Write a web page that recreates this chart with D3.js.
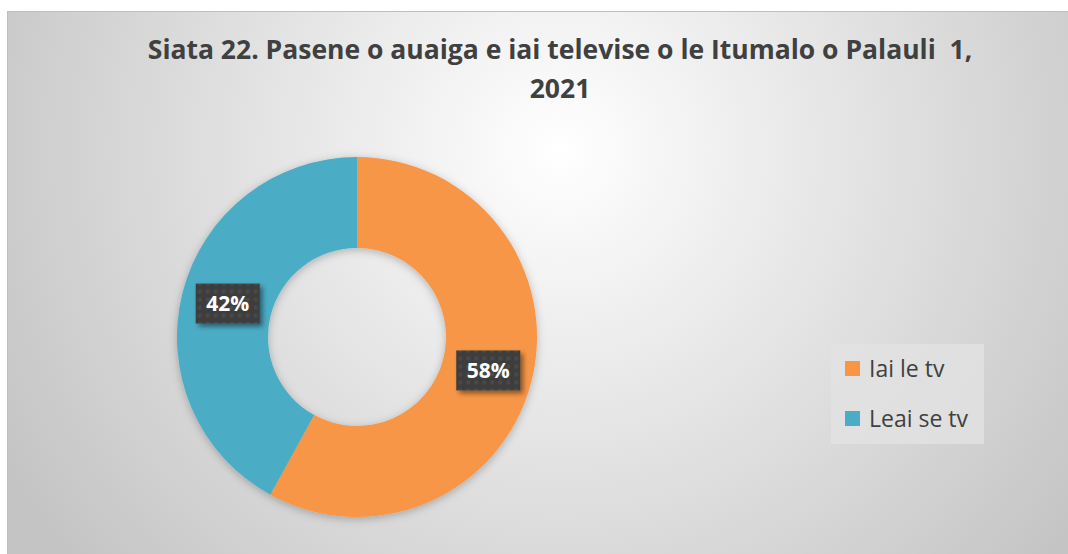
<!DOCTYPE html>
<html>
<head>
<meta charset="utf-8">
<script src="https://cdn.jsdelivr.net/npm/d3@7"></script>
<style>
  body { margin: 0; background: #ffffff; }
  svg { display: block; }
</style>
</head>
<body>
<div id="chart"></div>
<script>
(function () {

    // Data
    const categories = ["Iai le tv", "Leai se tv"];
    const values = [58, 42];
    const colors = ["#F79646", "#4BACC6"];
    const titleLines = ["Siata 22. Pasene o auaiga e iai televise o le Itumalo o Palauli  1,", "2021"];

    const width = 1068;
    const height = 554;

    const svg = d3.select('#chart')
        .append('svg')
        .attr('width', width)
        .attr('height', height);

    const defs = svg.append("defs");

    // Background gradient
    const bg = defs.append("radialGradient")
        .attr("id", "bgGrad")
        .attr("gradientUnits", "userSpaceOnUse")
        .attr("cx", 560).attr("cy", 150).attr("r", 640);
    bg.append("stop").attr("offset", "0%").attr("stop-color", "#ffffff");
    bg.append("stop").attr("offset", "100%").attr("stop-color", "#c4c4c4");

    // Dot pattern for data labels
    const pat = defs.append("pattern")
        .attr("id", "dots")
        .attr("patternUnits", "userSpaceOnUse")
        .attr("width", 8).attr("height", 8);
    pat.append("rect").attr("width", 8).attr("height", 8).attr("fill", "#3d3d3d");
    pat.append("circle").attr("cx", 4).attr("cy", 4).attr("r", 2.2).attr("fill", "#484848");

    const shadow = defs.append("filter").attr("id", "shadow")
        .attr("x", "-20%").attr("y", "-20%").attr("width", "150%").attr("height", "150%");
    shadow.append("feDropShadow")
        .attr("dx", 3).attr("dy", 3).attr("stdDeviation", 2.5)
        .attr("flood-color", "#000").attr("flood-opacity", 0.45);

    const pieShadow = defs.append("filter").attr("id", "pieShadow")
        .attr("x", "-20%").attr("y", "-20%").attr("width", "140%").attr("height", "140%");
    pieShadow.append("feDropShadow")
        .attr("dx", 0).attr("dy", 2).attr("stdDeviation", 4)
        .attr("flood-color", "#000").attr("flood-opacity", 0.25);

    // Chart area
    svg.append("rect")
        .attr("x", 7.5).attr("y", 11.5)
        .attr("width", width).attr("height", height)
        .attr("fill", "url(#bgGrad)")
        .attr("stroke", "#bfbfbf")
        .attr("stroke-width", 1);

    // Title
    const title = svg.append("text")
        .attr("text-anchor", "middle")
        .attr("font-family", "'Open Sans', sans-serif")
        .attr("font-weight", "bold")
        .attr("font-size", 26.5)
        .attr("fill", "#404040")
        .style("white-space", "pre");
    title.selectAll("tspan")
        .data(titleLines)
        .enter().append("tspan")
        .attr("x", 560)
        .attr("y", (d, i) => 59 + i * 39)
        .text(d => d);

    // Donut
    const cx = 357, cy = 337;
    const outerR = 180, innerR = 89;

    const pie = d3.pie().sort(null).value(d => d.value);
    const arc = d3.arc().innerRadius(innerR).outerRadius(outerR);
    const data = pie(categories.map((c, i) => ({ name: c, value: values[i], color: colors[i] })));

    const g = svg.append("g")
        .attr("transform", `translate(${cx}, ${cy})`);

    g.append("g")
        .attr("filter", "url(#pieShadow)")
        .selectAll("path")
        .data(data)
        .enter().append("path")
        .attr("d", arc)
        .attr("fill", d => d.data.color);

    // Data labels
    const total = d3.sum(values);
    const boxW = 64, boxH = 40;

    const labels = g.selectAll(".lbl")
        .data(data)
        .enter().append("g")
        .attr("class", "lbl")
        .attr("transform", d => {
            const [x, y] = arc.centroid(d);
            return `translate(${x + 1}, ${y})`;
        });

    labels.append("rect")
        .attr("x", -boxW / 2).attr("y", -boxH / 2)
        .attr("width", boxW).attr("height", boxH)
        .attr("fill", "url(#dots)")
        .attr("filter", "url(#shadow)");

    labels.append("text")
        .attr("text-anchor", "middle")
        .attr("dy", "0.36em")
        .attr("font-family", "'Open Sans', sans-serif")
        .attr("font-weight", "bold")
        .attr("font-size", 21)
        .attr("fill", "#ffffff")
        .text(d => Math.round(d.data.value / total * 100) + "%");

    // Legend
    const legend = svg.append("g").attr("transform", "translate(831, 344)");
    legend.append("rect")
        .attr("width", 153).attr("height", 100)
        .attr("fill", "#e2e2e2")
        .attr("opacity", 0.8);

    const items = legend.selectAll(".item")
        .data(categories)
        .enter().append("g")
        .attr("class", "item")
        .attr("transform", (d, i) => `translate(14, ${17 + i * 50})`);

    items.append("rect")
        .attr("width", 15).attr("height", 15)
        .attr("fill", (d, i) => colors[i]);

    items.append("text")
        .attr("x", 24).attr("y", 16)
        .attr("font-family", "'Open Sans', sans-serif")
        .attr("font-size", 23)
        .attr("fill", "#404040")
        .text(d => d);
})();
</script>
</body>
</html>
